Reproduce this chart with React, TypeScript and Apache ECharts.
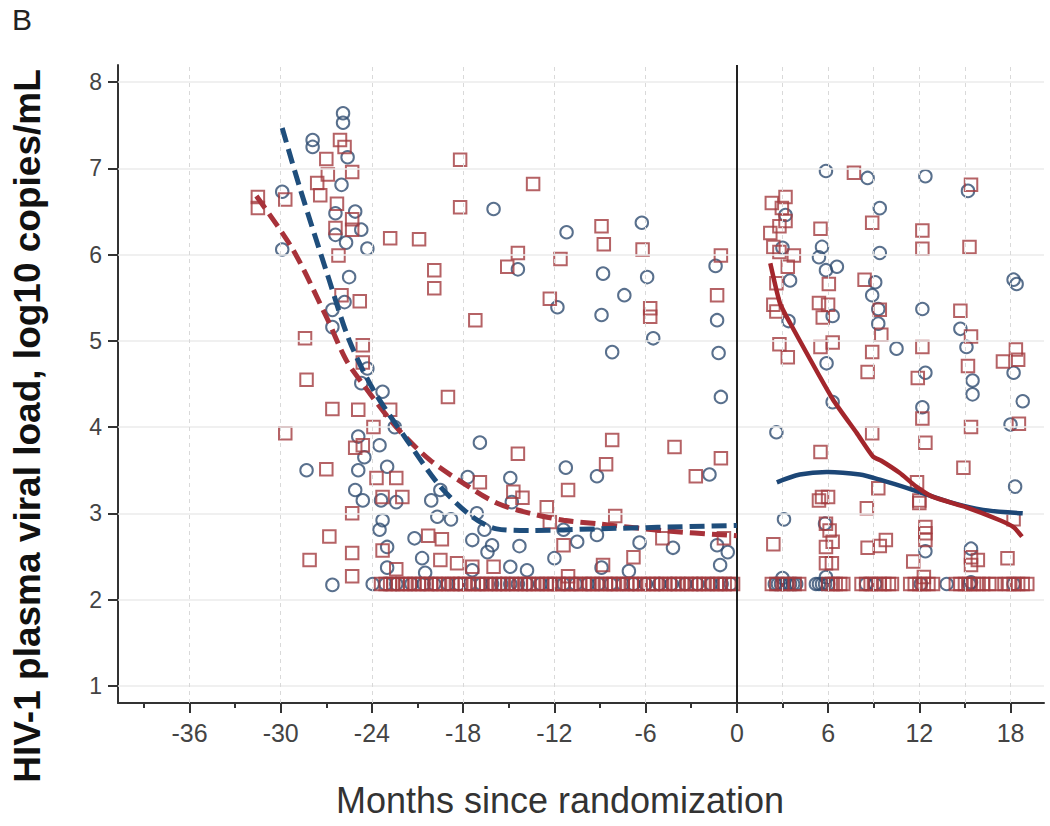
import React, { useEffect, useRef } from 'react';
import * as echarts from 'echarts';

const majorTicksX = [-36, -30, -24, -18, -12, -6, 0, 6, 12, 18];
const minorTicksX = [-39, -33, -27, -21, -15, -9, -3, 3, 9, 15];
const ticksY = [1, 2, 3, 4, 5, 6, 7, 8];
const verticalGridX = [-36, -30, -24, -18, -12, -6, 3, 6, 9, 12, 15, 18];

const FLOOR = 2.18;

const blueCircles: [number, number][] = [
  [-25.9, 7.64], [-25.9, 7.53], [-27.9, 7.33], [-27.9, 7.25], [-25.6, 7.13], [-26.0, 6.81], [-29.9, 6.73],
  [-26.4, 6.48], [-25.1, 6.5], [-24.7, 6.29], [-26.4, 6.23], [-25.7, 6.14], [-24.3, 6.07], [-29.9, 6.06],
  [-25.5, 5.74], [-26.6, 5.36], [-26.6, 5.16], [-25.8, 5.45], [-24.3, 4.68], [-24.7, 4.51],
  [-16.0, 6.53], [-11.2, 6.26], [-6.25, 6.37], [-14.4, 5.83], [-1.4, 5.87], [-8.8, 5.78], [-5.9, 5.74],
  [-7.4, 5.53], [-11.8, 5.39], [-8.9, 5.3], [-1.3, 5.24], [-5.5, 5.03], [-8.2, 4.87], [-1.2, 4.86], [-1.05, 4.35],
  [-23.3, 4.41], [-16.9, 3.82], [-11.25, 3.53], [-1.8, 3.45], [-9.2, 3.43], [-24.9, 3.89], [-22.5, 4.0],
  [-23.5, 3.79], [-24.5, 3.65], [-24.9, 3.5], [-23.0, 3.54], [-25.1, 3.27], [-24.6, 3.15], [-23.4, 3.15],
  [-22.4, 3.13], [-20.1, 3.15], [-19.5, 3.27], [-17.7, 3.42], [-14.9, 3.41], [-14.8, 3.13], [-17.1, 3.0],
  [-19.7, 2.96], [-18.8, 2.93], [-23.3, 2.92], [-23.5, 2.81], [-21.2, 2.71], [-16.6, 2.81], [-17.4, 2.69],
  [-16.1, 2.63], [-14.3, 2.62], [-11.4, 2.81], [-10.5, 2.67], [-9.2, 2.75], [-6.4, 2.66], [-4.2, 2.6],
  [-1.3, 2.63], [-0.6, 2.55], [-20.7, 2.48], [-23.0, 2.61], [-16.4, 2.55], [-12.0, 2.48], [-23.0, 2.37],
  [-20.5, 2.31], [-17.4, 2.34], [-14.9, 2.38], [-13.8, 2.34], [-8.9, 2.37], [-7.1, 2.33], [-1.1, 2.4],
  [-28.3, 3.5], [-26.6, 2.17],
  [5.86, 6.97], [8.6, 6.89], [12.4, 6.91], [15.2, 6.74], [9.4, 6.54], [3.2, 6.46], [5.6, 6.09], [5.4, 5.97],
  [5.86, 5.82], [6.58, 5.86], [9.4, 6.02], [3.0, 6.08], [3.5, 5.7], [9.1, 5.68], [8.9, 5.53], [18.2, 5.71],
  [18.4, 5.66], [12.2, 5.37], [9.3, 5.37], [9.3, 5.2], [6.3, 5.29], [3.4, 5.23], [14.7, 5.14], [15.1, 4.93],
  [10.5, 4.91], [5.9, 4.74], [12.4, 4.63], [18.2, 4.63], [15.5, 4.54], [15.5, 4.38], [18.8, 4.3], [6.3, 4.29],
  [12.2, 4.23], [18.0, 4.03], [2.6, 3.94], [18.3, 3.31], [3.1, 2.93], [5.8, 2.88], [12.4, 2.56], [15.4, 2.59],
  [3.0, 2.25], [5.86, 2.26], [15.4, 2.2],
];

const redSquares: [number, number][] = [
  [-26.1, 7.33], [-25.8, 7.25], [-27.0, 7.11], [-25.3, 6.96], [-26.9, 6.93], [-27.6, 6.83], [-27.4, 6.69],
  [-31.5, 6.67], [-29.7, 6.64], [-31.5, 6.54], [-26.3, 6.59], [-25.3, 6.41], [-26.4, 6.31], [-25.3, 6.29],
  [-26.2, 5.99], [-22.8, 6.19], [-20.9, 6.18], [-19.9, 5.82], [-19.9, 5.61], [-26.0, 5.53], [-24.8, 5.46],
  [-28.4, 5.03], [-24.6, 4.95], [-18.2, 7.1], [-18.2, 6.55], [-17.2, 5.24], [-28.3, 4.55], [-24.6, 4.75],
  [-13.4, 6.82], [-8.9, 6.33], [-8.75, 6.12], [-6.2, 6.06], [-14.4, 6.02], [-15.1, 5.86], [-11.6, 5.95],
  [-1.05, 5.99], [-1.3, 5.53], [-12.3, 5.49], [-5.7, 5.38], [-5.7, 5.28],
  [-26.6, 4.21], [-22.8, 4.2], [-24.9, 4.2], [-19.0, 4.35], [-8.2, 3.85], [-4.1, 3.77], [-14.4, 3.69],
  [-1.05, 3.64], [-8.6, 3.57], [-2.7, 3.43], [-23.9, 4.0], [-25.1, 3.76], [-24.6, 3.79], [-23.7, 3.41],
  [-22.4, 3.41], [-22.0, 3.19], [-23.3, 3.19], [-16.9, 3.36], [-14.7, 3.25], [-11.1, 3.27], [-14.1, 3.18],
  [-12.5, 3.07], [-25.3, 3.0], [-8.0, 2.97], [-26.8, 2.73], [-12.3, 2.9], [-23.3, 2.57], [-20.3, 2.74],
  [-19.4, 2.7], [-25.3, 2.54], [-11.4, 2.63], [-4.9, 2.71], [-6.8, 2.49], [-22.4, 2.35], [-25.3, 2.27],
  [-19.5, 2.46], [-18.4, 2.42], [-17.4, 2.38], [-16.0, 2.38], [-11.1, 2.27], [-8.8, 2.4], [-0.85, 2.71],
  [-29.7, 3.93], [-27.0, 3.51], [-28.1, 2.46],
  [7.7, 6.95], [15.4, 6.81], [3.2, 6.67], [2.3, 6.6], [2.96, 6.54], [3.2, 6.39], [2.8, 6.33], [2.2, 6.25],
  [5.5, 6.3], [8.9, 6.37], [12.2, 6.28], [12.2, 6.07], [15.3, 6.09], [2.4, 6.09], [2.8, 6.03], [3.75, 5.99],
  [3.35, 5.86], [2.6, 5.67], [6.05, 5.66], [8.4, 5.71], [2.4, 5.42], [2.6, 5.34], [5.4, 5.44], [6.0, 5.42],
  [5.65, 5.27], [9.4, 5.36], [14.7, 5.35], [15.4, 5.05], [18.35, 4.9], [18.5, 4.78], [17.5, 4.76], [9.5, 5.07],
  [8.9, 4.87], [8.6, 4.64], [12.2, 4.93], [11.9, 4.57], [15.2, 4.71], [2.8, 4.96], [3.35, 4.81], [5.5, 4.93],
  [6.3, 4.98], [12.2, 4.1], [15.4, 4.0], [18.55, 4.04], [8.9, 3.93], [12.4, 3.82], [5.5, 3.71], [14.9, 3.53],
  [9.3, 3.29], [8.55, 3.06], [5.6, 3.19], [6.0, 3.19], [5.4, 3.15], [12.0, 3.15], [11.85, 3.36], [12.0, 3.12],
  [18.2, 2.93], [5.86, 2.88], [6.1, 2.8], [6.3, 2.67], [5.86, 2.61], [6.25, 2.42], [5.86, 2.42], [12.4, 2.84],
  [12.4, 2.77], [12.4, 2.69], [9.8, 2.69], [9.4, 2.62], [8.6, 2.6], [11.6, 2.44], [15.4, 2.49], [15.85, 2.46],
  [15.4, 2.4], [17.8, 2.48], [2.4, 2.64], [12.3, 2.26],
];

// Months of measurements at the detection floor
const blueFloorMonths = [
  -23.95, -23.1, -22.4, -21.4, -20.6, -19.9, -19.0, -18.3, -17.6, -16.8, -16.1, -15.5, -14.9, -14.4,
  -13.8, -12.9, -12.2, -11.4, -10.6, -9.8, -9.1, -8.3, -7.5, -6.8, -6.0, -5.1, -4.3, -3.4, -2.6, -1.7,
  -1.0, -0.4,
  2.5, 2.7, 2.9, 3.1, 3.3, 3.5, 3.7, 3.9, 5.2, 5.4, 5.6, 5.8, 6.0, 8.5, 9.1, 12.1, 13.8, 15.3, 18.2,
];
const redFloorMonths = [
  -23.4, -23.1, -22.8, -22.6, -22.3, -22.0, -21.8, -21.5, -21.2, -20.9, -20.7, -20.4, -20.1, -19.8,
  -19.6, -19.3, -19.0, -18.7, -18.4, -18.2, -17.9, -17.6, -17.3, -17.0, -16.8, -16.5, -16.2, -15.9,
  -15.6, -15.4, -15.1, -14.8, -14.5, -14.2, -13.9, -13.7, -13.4, -13.1, -12.8, -12.5, -12.3, -12.0,
  -11.7, -11.4, -11.1, -10.9, -10.6, -10.3, -10.0, -9.7, -9.5, -9.2, -8.9, -8.6, -8.3, -8.1, -7.8,
  -7.5, -7.2, -6.9, -6.7, -6.4, -6.1, -5.8, -5.5, -5.3, -5.0, -4.7, -4.4, -4.1, -3.9, -3.6, -3.3,
  -3.0, -2.7, -2.5, -2.2, -1.9, -1.6, -1.3, -1.1, -0.8, -0.5, -0.25,
  2.3, 2.6, 3.0, 3.4, 3.8, 4.1, 6.0, 6.3, 6.5, 6.8, 7.0, 8.2, 8.5, 8.8, 9.1, 9.4, 9.7, 10.0, 10.2,
  11.4, 11.7, 12.0, 12.3, 12.6, 12.9, 14.4, 14.7, 15.0, 15.3, 15.6, 15.9, 16.2, 16.6, 17.0,
  17.6, 17.9, 18.2, 18.5, 18.8, 19.1,
];

const blueDashed: [number, number][] = [
  [-29.9, 7.47], [-28.75, 6.78], [-26.8, 5.7], [-25.5, 5.01], [-23.9, 4.43], [-21.7, 3.85], [-19.5, 3.31],
  [-17.4, 2.96], [-15.8, 2.82], [-13.6, 2.8], [-9.2, 2.82], [0, 2.86],
];
const redDashed: [number, number][] = [
  [-31.6, 6.68], [-29.2, 6.06], [-27.0, 5.28], [-25.7, 4.78], [-24.6, 4.5], [-22.4, 4.0], [-20.2, 3.62],
  [-18.0, 3.35], [-15.8, 3.12], [-13.6, 3.0], [-11.4, 2.92], [-9.2, 2.88], [-4.9, 2.8], [0, 2.74],
];
const redSolid: [number, number][] = [
  [2.2, 5.9], [2.83, 5.44], [3.49, 5.21], [6.32, 4.32], [7.89, 3.93], [8.95, 3.66], [9.5, 3.61],
  [10.7, 3.47], [11.8, 3.31], [12.9, 3.19], [15.1, 3.07], [17.3, 2.92], [18.2, 2.84], [18.75, 2.73],
];
const blueSolid: [number, number][] = [
  [2.63, 3.36], [4.14, 3.45], [5.92, 3.48], [8.09, 3.45], [9.41, 3.39], [11.6, 3.27], [14.0, 3.13],
  [16.2, 3.04], [18.8, 3.0],
];

const FONT = 'Liberation Sans, Arial, Helvetica, sans-serif';
const BLUE_MK = '#2f4c70';
const RED_MK = '#a33b3f';
const MK_SIZE = 12.5;
const MK_BORDER = 2;

export default function App() {
  const ref = useRef<HTMLDivElement>(null);
  useEffect(() => {
    document.body.style.margin = '0';
    if (!ref.current) return;
    const chart = echarts.init(ref.current, undefined, { renderer: 'svg' });
    const xRange = { min: -40.7, max: 20.2 };
    const option: any = {
      animation: false,
      backgroundColor: '#ffffff',
      grid: { left: 118, right: 6, top: 65, bottom: 123 },
      xAxis: [
        {
          type: 'value', ...xRange, position: 'bottom',
          axisLine: { show: true, onZero: false, lineStyle: { color: '#333', width: 2 } },
          axisTick: { show: true, customValues: majorTicksX, length: 10, lineStyle: { color: '#333', width: 2 } },
          axisLabel: { customValues: majorTicksX, fontSize: 25, color: '#444', fontFamily: FONT, margin: 17 },
          splitLine: { show: false },
        },
        {
          type: 'value', ...xRange, position: 'bottom',
          axisLine: { show: false, onZero: false },
          axisTick: { show: true, customValues: minorTicksX, length: 5, lineStyle: { color: '#333', width: 2 } },
          axisLabel: { show: false },
          splitLine: { show: false },
        },
      ],
      yAxis: {
        type: 'value', min: 0.8, max: 8.2,
        axisLine: { show: true, onZero: false, lineStyle: { color: '#333', width: 2 } },
        axisTick: { show: true, customValues: ticksY, length: 10, lineStyle: { color: '#333', width: 2 } },
        axisLabel: { customValues: ticksY, fontSize: 23, color: '#444', fontFamily: FONT, margin: 16 },
        splitLine: { show: false },
      },
      graphic: [
        {
          type: 'text', x: 12, y: 19,
          style: { text: 'B', fontSize: 30, fontFamily: FONT, fill: '#222', align: 'left', verticalAlign: 'middle' },
        },
        {
          type: 'text', x: 27, y: 426, rotation: Math.PI / 2,
          style: { text: 'HIV-1 plasma viral load, log10 copies/mL', fontSize: 37, fontWeight: 'bold', fontFamily: FONT, fill: '#111', align: 'center', verticalAlign: 'middle' },
        },
        {
          type: 'text', x: 560, y: 800,
          style: { text: 'Months since randomization', fontSize: 36, fontFamily: FONT, fill: '#333', align: 'center', verticalAlign: 'middle' },
        },
      ],
      series: [
        {
          type: 'line', data: [], silent: true, z: 1,
          markLine: {
            silent: true, symbol: ['none', 'none'], label: { show: false },
            data: [
              ...ticksY.map((v) => ({ yAxis: v, lineStyle: { color: '#ebebeb', width: 1.5, type: 'solid' } })),
              ...verticalGridX.map((v) => ({ xAxis: v, lineStyle: { color: '#d9d9d9', width: 1, type: [4, 4] } })),
            ],
          },
        },
        {
          type: 'scatter', name: 'blue', data: blueCircles, symbol: 'circle', symbolSize: MK_SIZE, z: 3,
          itemStyle: { color: 'rgba(255,255,255,0)', borderColor: BLUE_MK, borderWidth: MK_BORDER },
        },
        {
          type: 'scatter', name: 'red', data: redSquares, symbol: 'rect', symbolSize: MK_SIZE, z: 3,
          itemStyle: { color: 'rgba(255,255,255,0)', borderColor: RED_MK, borderWidth: MK_BORDER },
        },
        {
          type: 'scatter', name: 'blueFloor', data: blueFloorMonths.map((m) => [m, FLOOR]), symbol: 'circle', symbolSize: MK_SIZE, z: 3,
          itemStyle: { color: 'rgba(255,255,255,0)', borderColor: BLUE_MK, borderWidth: MK_BORDER },
        },
        {
          type: 'scatter', name: 'redFloor', data: redFloorMonths.map((m) => [m, FLOOR]), symbol: 'rect', symbolSize: MK_SIZE, z: 3,
          itemStyle: { color: 'rgba(255,255,255,0)', borderColor: RED_MK, borderWidth: MK_BORDER },
        },
        {
          type: 'line', data: [], silent: true, z: 4,
          markLine: {
            silent: true, symbol: ['none', 'none'], label: { show: false },
            data: [{ xAxis: 0, lineStyle: { color: '#222', width: 2, type: 'solid' } }],
          },
        },
        {
          type: 'line', data: redDashed, smooth: 0.3, showSymbol: false, z: 5,
          lineStyle: { color: '#a8323a', width: 5, type: [15, 7] },
        },
        {
          type: 'line', data: blueDashed, smooth: 0.3, showSymbol: false, z: 5,
          lineStyle: { color: '#1f4e7c', width: 5, type: [15, 7] },
        },
        {
          type: 'line', data: blueSolid, smooth: 0.3, showSymbol: false, z: 5,
          lineStyle: { color: '#1c4676', width: 4.5 },
        },
        {
          type: 'line', data: redSolid, smooth: 0.2, showSymbol: false, z: 6,
          lineStyle: { color: '#a3262c', width: 4.5 },
        },
      ],
    };
    chart.setOption(option);
    return () => chart.dispose();
  }, []);
  return <div ref={ref} style={{ width: 1050, height: 826 }} />;
}
